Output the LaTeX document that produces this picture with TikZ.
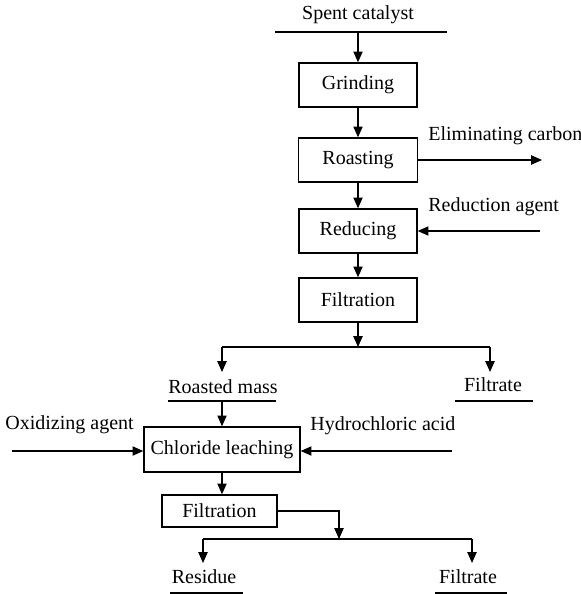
\documentclass[tikz,border=0pt]{standalone}
\usepackage{fontspec}
\setmainfont{Liberation Serif}
\usetikzlibrary{arrows.meta, positioning}

\tikzset{
  stage/.style={draw, rectangle, line width=0.65pt, inner sep=0pt, font=\fontsize{10}{12}\selectfont},
  tag/.style={inner sep=0pt, font=\fontsize{10}{12}\selectfont},
  flow/.style={line width=0.65pt, -{Triangle[length=5.4pt,width=4.6pt]}},
  rule/.style={line width=0.65pt}
}

\begin{document}
\begin{tikzpicture}[x=0.5pt, y=-0.5pt]
\useasboundingbox (0,0) rectangle (581,594);

% feed
\node [tag] (spent) at (358,15) {Spent catalyst};
\coordinate (spentL) at (275,32);
\coordinate (spentR) at (447,32);
\coordinate (spentOut) at (358,32);
\draw [rule] (spentL) -- (spentR);

% main line of stages
\node [stage, minimum width=59pt, minimum height=22pt] (grind)  at (358,85)  {Grinding};
\node [stage, minimum width=59.5pt, minimum height=22pt] (roast) at (358,160) {Roasting};
\node [stage, minimum width=59pt, minimum height=22pt] (reduce) at (358,231) {Reducing};
\node [stage, minimum width=59pt, minimum height=22pt] (filtA)  at (358,300) {Filtration};

\draw [flow] (spentOut) -- (grind.north);
\draw [flow] (grind) -- (roast);
\draw [flow] (roast) -- (reduce);
\draw [flow] (reduce) -- (filtA);

% carbon out, reductant in
\node [tag, anchor=west] (carbon) at (428,136) {Eliminating carbon};
\coordinate (carbonEnd) at (542,160);
\draw [flow] (roast.east) -- (carbonEnd);
\node [tag, anchor=west] (reductant) at (428,207) {Reduction agent};
\coordinate (reductantIn) at (540,231);
\draw [flow] (reductantIn) -- (reduce.east);

% first split
\coordinate (splitA) at (358,347);
\coordinate (splitAL) at (222,347);
\coordinate (splitAR) at (490,347);
\coordinate (massTop) at (222,372);
\coordinate (filtrateATop) at (490,372);
\draw [flow] (filtA.south) -- (splitA);
\draw [rule] (splitAL) -- (splitAR);
\draw [flow] (splitAL) -- (massTop);
\draw [flow] (splitAR) -- (filtrateATop);

\node [tag] (mass) at (223,387) {Roasted mass};
\draw [rule] (168,401) -- (276,401);
\node [tag] (filtrateA) at (493,385) {Filtrate};
\draw [rule] (455,401) -- (533,401);

% leaching
\node [stage, minimum width=78pt, minimum height=22.5pt] (leach) at (222,449.5) {Chloride leaching};
\coordinate (massOut) at (222,401);
\draw [flow] (massOut) -- (leach.north);

\node [tag, anchor=west] (oxidant) at (5,425) {Oxidizing agent};
\coordinate (oxidantIn) at (12,451);
\draw [flow] (oxidantIn) -- (leach.west |- oxidantIn);
\node [tag, anchor=west] (acid) at (310,426) {Hydrochloric acid};
\coordinate (acidIn) at (452,451);
\draw [flow] (acidIn) -- (leach.east |- acidIn);

% second filtration and split
\node [stage, minimum width=57.5pt, minimum height=16pt] (filtB) at (219.5,511) {Filtration};
\draw [flow] (leach.south -| 222,0) -- (filtB.north -| 222,0);

\coordinate (turnB) at (339,511);
\coordinate (splitB) at (339,539);
\coordinate (splitBL) at (203,539);
\coordinate (splitBR) at (472,539);
\coordinate (residueTop) at (203,563);
\coordinate (filtrateBTop) at (472,563);
\draw [flow] (filtB.east) -- (turnB) -- (splitB);
\draw [rule] (splitBL) -- (splitBR);
\draw [flow] (splitBL) -- (residueTop);
\draw [flow] (splitBR) -- (filtrateBTop);

\node [tag] (residue) at (204,577) {Residue};
\draw [rule] (170,593) -- (243,593);
\node [tag] (filtrateB) at (468,577) {Filtrate};
\draw [rule] (435,593) -- (507,593);
\end{tikzpicture}
\end{document}
